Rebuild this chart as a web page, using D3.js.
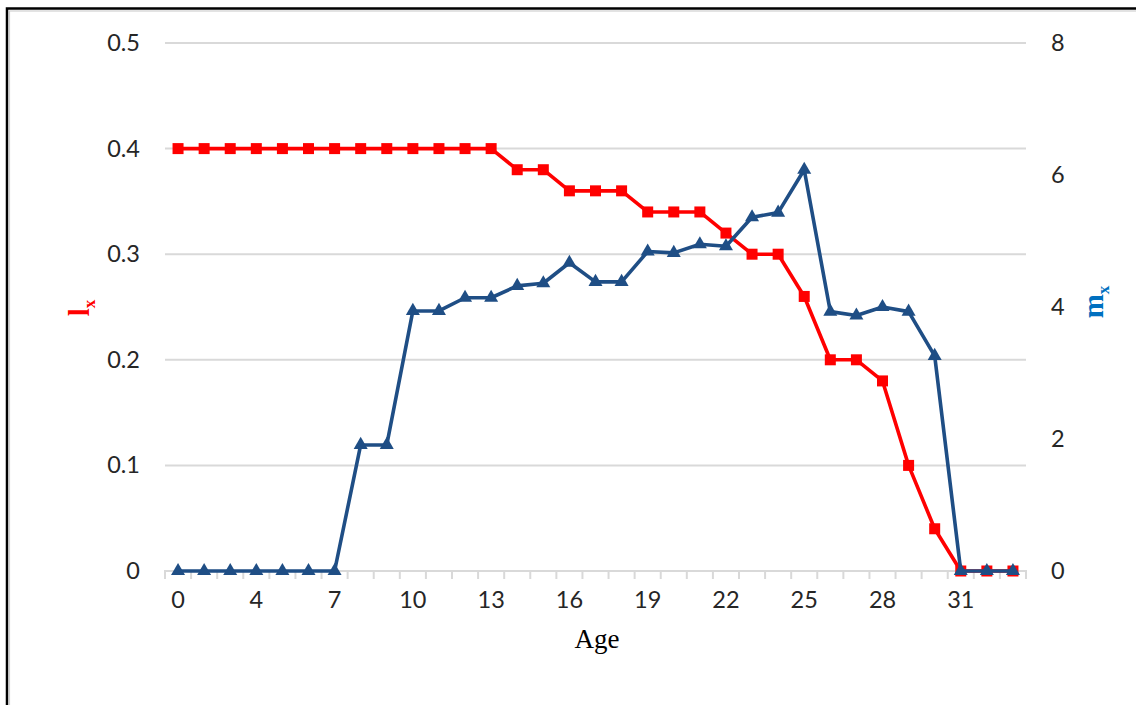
<!DOCTYPE html>
<html><head><meta charset="utf-8">
<script src="https://cdn.jsdelivr.net/npm/d3@7"></script>
<style>body{margin:0;background:#fff}svg{display:block}</style>
</head><body>
<svg id="c" width="1136" height="705"></svg>
<script>
const ages = ["0","2","3","4","5","6","7","8","9","10","11","12","13","14","15","16","17","18","19","20","21","22","23","24","25","26","27","28","29","30","31","32","33"];
const lx = [0.4,0.4,0.4,0.4,0.4,0.4,0.4,0.4,0.4,0.4,0.4,0.4,0.4,0.38,0.38,0.36,0.36,0.36,0.34,0.34,0.34,0.32,0.30,0.30,0.26,0.20,0.20,0.18,0.10,0.04,0,0,0];
const mx = [0,0,0,0,0,0,0,1.91,1.91,3.94,3.94,4.14,4.14,4.32,4.36,4.67,4.38,4.38,4.84,4.82,4.95,4.92,5.36,5.43,6.08,3.93,3.87,4.00,3.93,3.26,0,0,0];
const xTickLabels = ["0","4","7","10","13","16","19","22","25","28","31"];
const leftTicks = [0,0.1,0.2,0.3,0.4,0.5];
const rightTicks = [0,2,4,6,8];

const svg = d3.select("#c");
// outer frame
svg.append("rect").attr("x",7).attr("y",8.5).attr("width",1200).attr("height",800)
  .attr("fill","none").attr("stroke","#000").attr("stroke-width",2.5);
svg.append("rect").attr("x",9.5).attr("y",11).attr("width",1200).attr("height",800)
  .attr("fill","none").attr("stroke","#d0d0d0").attr("stroke-width",1.2);

const L=165, R=1026, T=43, B=571;
const x = d3.scaleBand().domain(ages).range([L,R]).paddingInner(0).paddingOuter(0);
const cx = d => x(d) + x.bandwidth()/2;
const yL = d3.scaleLinear().domain([0,0.5]).range([B,T]);
const yR = d3.scaleLinear().domain([0,8]).range([B,T]);
const font = "Lato, 'Open Sans', sans-serif";

// gridlines
svg.append("g").selectAll("line").data(leftTicks.filter(d=>d>0)).join("line")
  .attr("x1",L).attr("x2",R).attr("y1",d=>yL(d)).attr("y2",d=>yL(d))
  .attr("stroke","#d9d9d9").attr("stroke-width",2);

// x axis
const xAxis = d3.axisBottom(x).tickValues(xTickLabels).tickSize(0).tickPadding(0);
const gx = svg.append("g").attr("transform",`translate(0,${B})`).call(xAxis);
gx.select(".domain").remove();
gx.selectAll("text").attr("font-family",font).attr("font-size",23.5).attr("fill","#262626")
  .attr("dy",null).attr("y",37);
// tick marks at category boundaries
const bounds = ages.map(a=>x(a)).concat([R]);
svg.append("g").selectAll("line").data(bounds).join("line")
  .attr("x1",d=>d).attr("x2",d=>d).attr("y1",B).attr("y2",B+8)
  .attr("stroke","#d9d9d9").attr("stroke-width",2);
svg.append("line").attr("x1",L-1).attr("x2",R+1).attr("y1",B).attr("y2",B)
  .attr("stroke","#d9d9d9").attr("stroke-width",2);

// left axis
const gl = svg.append("g").attr("transform",`translate(${L},0)`)
  .call(d3.axisLeft(yL).tickValues(leftTicks).tickSize(0).tickPadding(25).tickFormat(d=>d===0?"0":d3.format(".1f")(d)));
gl.select(".domain").remove();
gl.selectAll("text").attr("font-family",font).attr("font-size",23.5).attr("fill","#262626");
// right axis
const gr = svg.append("g").attr("transform",`translate(${R},0)`)
  .call(d3.axisRight(yR).tickValues(rightTicks).tickSize(0).tickPadding(25));
gr.select(".domain").remove();
gr.selectAll("text").attr("font-family",font).attr("font-size",23.5).attr("fill","#262626");

// lx series
svg.append("path").datum(lx).attr("fill","none").attr("stroke","#ff0000").attr("stroke-width",3.6)
  .attr("stroke-linejoin","round")
  .attr("d",d3.line().x((d,i)=>cx(ages[i])).y(d=>yL(d)));
svg.append("g").selectAll("rect").data(lx).join("rect")
  .attr("x",(d,i)=>cx(ages[i])-5.5).attr("y",d=>yL(d)-5.5).attr("width",11).attr("height",11)
  .attr("fill","#ff0000");

// mx series
svg.append("path").datum(mx).attr("fill","none").attr("stroke","#1f4e85").attr("stroke-width",3.6)
  .attr("stroke-linejoin","round")
  .attr("d",d3.line().x((d,i)=>cx(ages[i])).y(d=>yR(d)));
const tri = d3.symbol().type(d3.symbolTriangle).size(85);
svg.append("g").selectAll("path").data(mx).join("path")
  .attr("transform",(d,i)=>`translate(${cx(ages[i])},${yR(d)})`)
  .attr("d",tri).attr("fill","#1f4e85");

// axis titles
svg.append("text").attr("x",597).attr("y",648).attr("text-anchor","middle")
  .attr("font-family","'Liberation Serif', 'Times New Roman', serif").attr("font-size",27).attr("fill","#000").text("Age");

function axisTitle(xp, yp, main, color){
  const t = svg.append("text").attr("transform",`translate(${xp},${yp}) rotate(-90)`)
    .attr("text-anchor","middle").attr("font-family","'Liberation Serif', 'Times New Roman', serif")
    .attr("font-weight","bold").attr("font-size",29).attr("fill",color);
  t.append("tspan").text(main);
  t.append("tspan").attr("font-size",17).attr("dy",6).text("x");
}
axisTitle(89, 308, "l", "#ff0000");
axisTitle(1103, 302, "m", "#0070c0");
</script>
</body></html>
